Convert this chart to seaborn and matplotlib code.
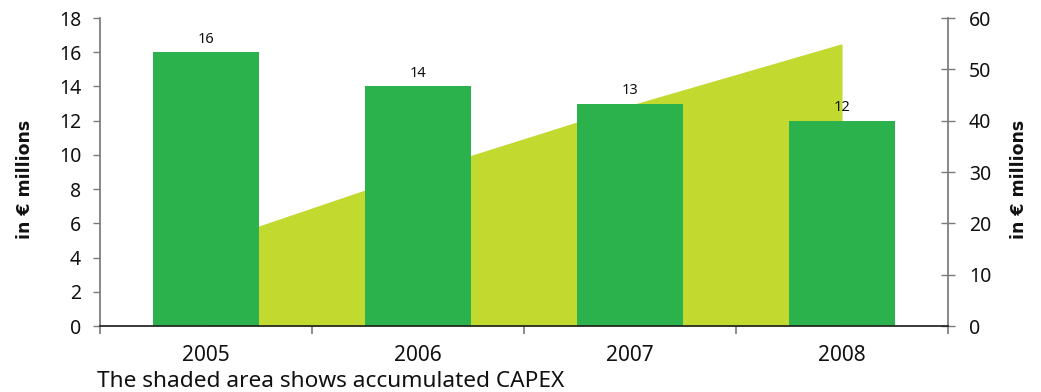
import matplotlib
matplotlib.use("Agg")
import matplotlib.pyplot as plt
import seaborn as sns
import pandas as pd

years = ["2005", "2006", "2007", "2008"]
capex = [16, 14, 13, 12]
accumulated = [16, 30, 43, 55]
left_ticks = [0, 2, 4, 6, 8, 10, 12, 14, 16, 18]
right_ticks = [0, 10, 20, 30, 40, 50, 60]

bar_color = "#2BB24C"
area_color = "#C2D92F"
text_color = "#111111"
axis_grey = "#7A7A7A"

sns.set_theme(style="white")
plt.rcParams["font.family"] = ["Noto Sans", "DejaVu Sans"]

df = pd.DataFrame({"year": years, "capex": capex})

fig = plt.figure(figsize=(10.41, 3.92), dpi=100)
ax = fig.add_axes([100 / 1041, 1 - 326 / 392, 848 / 1041, 308 / 392])
ax2 = ax.twinx()

# accumulated CAPEX as a shaded area on the secondary axis, behind the bars
xpos = list(range(len(years)))
ax2.fill_between(xpos, 0, accumulated, color=area_color, linewidth=0)
ax2.set_ylim(0, 60)
ax2.set_yticks(right_ticks)

ax.set_zorder(ax2.get_zorder() + 1)
ax.patch.set_visible(False)

sns.barplot(data=df, x="year", y="capex", color=bar_color, width=0.5,
            saturation=1, ax=ax, edgecolor="none")
ax.bar_label(ax.containers[0], labels=[str(v) for v in capex],
             padding=4, fontsize=10.5, color=text_color)
ax.set_ylim(0, 18)
ax.set_yticks(left_ticks)
ax.set_xlim(-0.5, len(years) - 0.5)
ax.set_xlabel("")
ax.set_ylabel("")

# category boundary ticks on the x axis
ax.set_xticks([i - 0.5 for i in range(len(years) + 1)], minor=True)
ax.tick_params(axis="x", which="major", length=0, labelsize=15, pad=14,
               colors=text_color)
ax.tick_params(axis="x", which="minor", length=6, width=1.2, color=axis_grey,
               direction="out", bottom=True)
ax.tick_params(axis="y", which="major", length=5, width=1, color=axis_grey,
               direction="out", left=True, labelsize=14, labelcolor=text_color,
               pad=8.5)
ax2.tick_params(axis="y", which="major", length=10, width=1, color=axis_grey,
                direction="inout", right=True, labelsize=14,
                labelcolor=text_color, pad=10)

for s in ["top", "right"]:
    ax.spines[s].set_visible(False)
ax.spines["left"].set_color(axis_grey)
ax.spines["bottom"].set_color("#222222")
for s in ["top", "left", "bottom"]:
    ax2.spines[s].set_visible(False)
ax2.spines["right"].set_color(axis_grey)

# axis titles
for xc in (25, 1019):
    fig.text(xc / 1041, 1 - 179 / 392, "in € millions", rotation=90,
             fontsize=12.5, fontweight="bold", family="DejaVu Sans",
             color=text_color, ha="center", va="center")

fig.text(97 / 1041, 1 - 387 / 392, "The shaded area shows accumulated CAPEX",
         fontsize=16.3, color=text_color, va="baseline", ha="left")

fig.savefig("out.png", dpi=100)
